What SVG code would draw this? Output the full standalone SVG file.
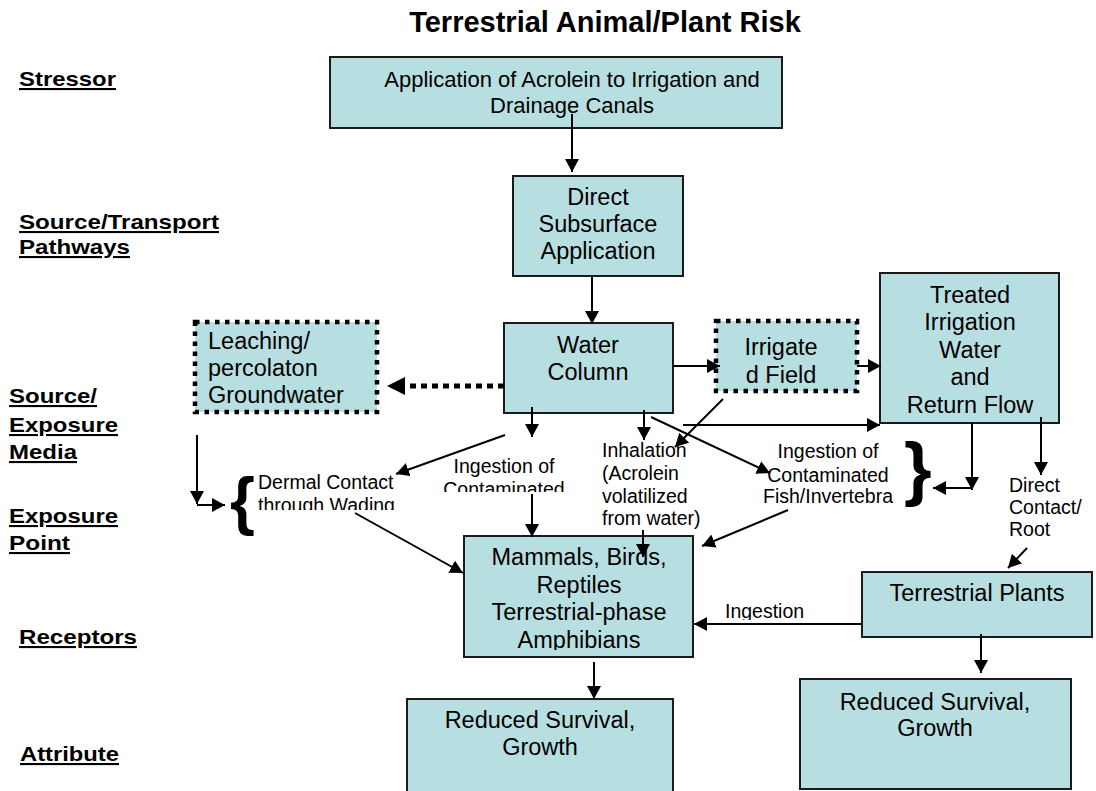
<svg xmlns="http://www.w3.org/2000/svg" width="1096" height="791" viewBox="0 0 1096 791">
<style>
.box{fill:#b7dfe2;stroke:#1a1a1a;stroke-width:2}
.dot{fill:#b7dfe2;stroke:#000;stroke-width:4.5;stroke-dasharray:4.5 5.5}
.t{font-family:"Liberation Sans",Arial,sans-serif;font-size:23.5px;fill:#000;text-anchor:middle}
.s{font-family:"Liberation Sans",Arial,sans-serif;font-size:19.5px;fill:#000}
.lab{font-family:"Liberation Sans",Arial,sans-serif;font-size:21px;font-weight:bold;fill:#000;text-decoration:underline}
.br{font-family:"Liberation Sans",Arial,sans-serif;font-weight:bold;fill:#000}
.c{stroke:#000;stroke-width:2;fill:none}
</style>
<defs>
<marker id="ah" viewBox="0 0 13 14" refX="13" refY="7" markerWidth="13" markerHeight="14" markerUnits="userSpaceOnUse" orient="auto">
<path d="M0,0 L13,7 L0,14 z" fill="#000"/>
</marker>
<clipPath id="clipDermal"><rect x="250" y="460" width="160" height="50"/></clipPath>
<clipPath id="clipIng"><rect x="430" y="450" width="150" height="42"/></clipPath>
<clipPath id="clipMam"><rect x="464" y="536" width="229" height="114"/></clipPath>
<clipPath id="clipIngLbl"><rect x="715" y="595" width="120" height="25"/></clipPath>
</defs>

<text x="605" y="32" font-family="Liberation Sans, Arial, sans-serif" font-size="29" font-weight="bold" text-anchor="middle">Terrestrial Animal/Plant Risk</text>

<g id="labels">
<text class="lab" x="19" y="86" textLength="97" lengthAdjust="spacingAndGlyphs">Stressor</text>
<text class="lab" x="19" y="229" textLength="200" lengthAdjust="spacingAndGlyphs">Source/Transport</text>
<text class="lab" x="19" y="254" textLength="111" lengthAdjust="spacingAndGlyphs">Pathways</text>
<text class="lab" x="9" y="403" textLength="88" lengthAdjust="spacingAndGlyphs">Source/</text>
<text class="lab" x="9" y="432" textLength="109" lengthAdjust="spacingAndGlyphs">Exposure</text>
<text class="lab" x="9" y="459" textLength="68" lengthAdjust="spacingAndGlyphs">Media</text>
<text class="lab" x="9" y="523" textLength="109" lengthAdjust="spacingAndGlyphs">Exposure</text>
<text class="lab" x="9" y="550" textLength="61" lengthAdjust="spacingAndGlyphs">Point</text>
<text class="lab" x="19" y="644" textLength="118" lengthAdjust="spacingAndGlyphs">Receptors</text>
<text class="lab" x="20" y="761" textLength="99" lengthAdjust="spacingAndGlyphs">Attribute</text>
</g>

<g id="stressor">
<rect class="box" x="330" y="57" width="452" height="71"/>
<text class="t" x="572" y="87" style="font-size:22px">Application of Acrolein to Irrigation and</text>
<text class="t" x="572" y="113" style="font-size:22px">Drainage Canals</text>
</g>

<g id="direct-subsurface">
<rect class="box" x="513" y="176" width="170" height="100"/>
<text class="t" x="598" y="205">Direct</text>
<text class="t" x="598" y="232">Subsurface</text>
<text class="t" x="598" y="259">Application</text>
</g>

<g id="water-column">
<rect class="box" x="504" y="323" width="169" height="90"/>
<text class="t" x="588" y="353">Water</text>
<text class="t" x="588" y="380">Column</text>
</g>

<g id="irrigated-field">
<rect class="dot" x="716" y="321" width="141" height="70"/>
<text class="t" x="781" y="355">Irrigate</text>
<text class="t" x="781" y="383">d Field</text>
</g>

<g id="treated">
<rect class="box" x="880" y="273" width="179" height="150"/>
<text class="t" x="970" y="303">Treated</text>
<text class="t" x="970" y="330">Irrigation</text>
<text class="t" x="970" y="358">Water</text>
<text class="t" x="970" y="385">and</text>
<text class="t" x="970" y="413">Return Flow</text>
</g>

<g id="leaching">
<rect class="dot" x="195" y="322" width="182" height="90"/>
<text class="t" x="208" y="349" style="text-anchor:start">Leaching/</text>
<text class="t" x="208" y="376" style="text-anchor:start">percolaton</text>
<text class="t" x="208" y="403" style="text-anchor:start">Groundwater</text>
</g>

<g id="dermal">
<text class="br" x="230" y="523" font-size="64">{</text>
<g clip-path="url(#clipDermal)">
<text class="s" x="258" y="489">Dermal Contact</text>
<text class="s" x="258" y="512">through Wading</text>
</g>
</g>

<g id="ingestion-water">
<g clip-path="url(#clipIng)">
<text class="s" x="504" y="473" text-anchor="middle">Ingestion of</text>
<text class="s" x="504" y="496" text-anchor="middle">Contaminated</text>
</g>
</g>

<g id="inhalation">
<text class="s" x="602" y="457">Inhalation</text>
<text class="s" x="602" y="480">(Acrolein</text>
<text class="s" x="602" y="503">volatilized</text>
<text class="s" x="602" y="525">from water)</text>
</g>

<g id="ingestion-fish">
<text class="s" x="828" y="458" text-anchor="middle">Ingestion of</text>
<text class="s" x="828" y="482" text-anchor="middle">Contaminated</text>
<text class="s" x="828" y="503" text-anchor="middle">Fish/Invertebra</text>
<text class="br" x="904" y="492" font-size="71">}</text>
</g>

<g id="direct-contact">
<text class="s" x="1009" y="492">Direct</text>
<text class="s" x="1009" y="514">Contact/</text>
<text class="s" x="1009" y="536">Root</text>
</g>

<g id="mammals">
<rect class="box" x="464" y="536" width="229" height="121"/>
<g clip-path="url(#clipMam)">
<text class="t" x="579" y="565">Mammals, Birds,</text>
<text class="t" x="579" y="593">Reptiles</text>
<text class="t" x="579" y="620">Terrestrial-phase</text>
<text class="t" x="579" y="648">Amphibians</text>
</g>
</g>

<g id="plants">
<rect class="box" x="862" y="572" width="230" height="65"/>
<text class="t" x="977" y="601">Terrestrial Plants</text>
</g>

<g id="reduced-left">
<rect class="box" x="407" y="699" width="266" height="100"/>
<text class="t" x="540" y="728">Reduced Survival,</text>
<text class="t" x="540" y="755">Growth</text>
</g>

<g id="reduced-right">
<rect class="box" x="800" y="679" width="271" height="110"/>
<text class="t" x="935" y="710">Reduced Survival,</text>
<text class="t" x="935" y="736">Growth</text>
</g>

<g id="connectors">
<line class="c" x1="572" y1="114" x2="572" y2="172" marker-end="url(#ah)"/>
<line class="c" x1="592" y1="276" x2="592" y2="324" marker-end="url(#ah)"/>
<line class="c" x1="673" y1="366" x2="720" y2="366" marker-end="url(#ah)"/>
<line class="c" x1="857" y1="366" x2="881" y2="366" marker-end="url(#ah)"/>
<line x1="504" y1="386" x2="400" y2="386" stroke="#000" stroke-width="5" stroke-dasharray="6 5"/>
<path d="M405,377 L387,386 L405,395 z" fill="#000"/>
<line class="c" x1="197" y1="435" x2="197" y2="504" marker-end="url(#ah)"/>
<line class="c" x1="197" y1="505" x2="225" y2="505" marker-end="url(#ah)"/>
<line class="c" x1="505" y1="435" x2="396" y2="474" marker-end="url(#ah)"/>
<line class="c" x1="532" y1="407" x2="532" y2="437" marker-end="url(#ah)"/>
<line class="c" x1="532" y1="494" x2="532" y2="537" marker-end="url(#ah)"/>
<line class="c" x1="355" y1="513" x2="463" y2="573" marker-end="url(#ah)"/>
<line class="c" x1="644" y1="410" x2="644" y2="440" marker-end="url(#ah)"/>
<line class="c" x1="723" y1="399" x2="675" y2="447" marker-end="url(#ah)"/>
<line class="c" x1="651" y1="417" x2="770" y2="473" marker-end="url(#ah)"/>
<line class="c" x1="683" y1="425" x2="880" y2="425" marker-end="url(#ah)"/>
<line class="c" x1="788" y1="510" x2="702" y2="546" marker-end="url(#ah)"/>
<line class="c" x1="643" y1="530" x2="643" y2="557" marker-end="url(#ah)"/>
<line class="c" x1="972" y1="423" x2="972" y2="490" marker-end="url(#ah)"/>
<line class="c" x1="972" y1="488" x2="933" y2="488" marker-end="url(#ah)"/>
<line class="c" x1="1041" y1="417" x2="1041" y2="475" marker-end="url(#ah)"/>
<line class="c" x1="1027" y1="548" x2="1008" y2="568" marker-end="url(#ah)"/>
<line class="c" x1="862" y1="624" x2="694" y2="624" marker-end="url(#ah)"/>
<line class="c" x1="981" y1="634" x2="981" y2="673" marker-end="url(#ah)"/>
<line class="c" x1="594" y1="662" x2="594" y2="699" marker-end="url(#ah)"/>
<g clip-path="url(#clipIngLbl)">
<text class="s" x="725" y="618">Ingestion</text>
</g>
</g>
</svg>
